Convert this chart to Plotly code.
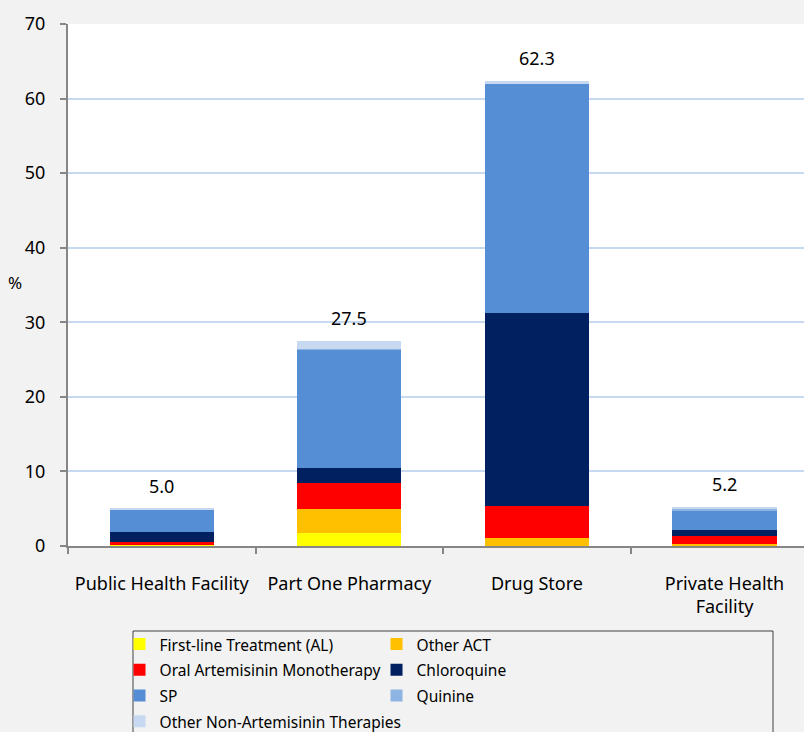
import plotly.graph_objects as go

categories = ["Public Health Facility", "Part One Pharmacy", "Drug Store", "Private Health<br>Facility"]
series_names = ["First-line Treatment (AL)", "Other ACT", "Oral Artemisinin Monotherapy",
                "Chloroquine", "SP", "Quinine", "Other Non-Artemisinin Therapies"]
first_line = [0.1, 1.8, 0.0, 0.1]
other_act = [0.0, 3.1, 1.1, 0.2]
oral_arte = [0.4, 3.5, 4.2, 1.1]
chloroquine = [1.4, 2.1, 26.0, 0.7]
sp = [3.0, 15.8, 30.7, 2.7]
quinine = [0.0, 0.1, 0.0, 0.1]
other_non_art = [0.1, 1.1, 0.3, 0.3]
totals = [5.0, 27.5, 62.3, 5.2]
y_ticks = [0, 10, 20, 30, 40, 50, 60, 70]

colors = ["#FFFF00", "#FFC000", "#FF0000", "#002060", "#558ED5", "#8EB4E3", "#C6D9F1"]
values = [first_line, other_act, oral_arte, chloroquine, sp, quinine, other_non_art]

FONT = "Noto Sans"
fig = go.Figure()
for name, vals, col in zip(series_names, values, colors):
    fig.add_trace(go.Bar(x=categories, y=vals,
                         name=f'<span style="font-size:15.5px">{name}</span>',
                         marker=dict(color=col, line=dict(width=0))))

for cat, tot in zip(categories, totals):
    fig.add_annotation(x=cat, y=tot, text=f"{tot:.1f}", showarrow=False,
                       yanchor="bottom", yshift=9,
                       font=dict(family=FONT, size=18, color="#000000"))

fig.add_annotation(xref="paper", yref="paper", x=(15 - 68) / 736, y=(546 - 282) / 522,
                   xanchor="center", yanchor="middle", text="%",
                   showarrow=False, font=dict(family=FONT, size=17, color="#000000"))

# legend box border (extends past bottom edge as in the reference)
fig.add_shape(type="rect", xref="paper", yref="paper",
              x0=(133 - 68) / 736, x1=(773 - 68) / 736,
              y0=(546 - 745) / 522, y1=(546 - 631) / 522,
              line=dict(color="#404040", width=1), fillcolor="rgba(0,0,0,0)", layer="below")

fig.update_layout(
    width=804, height=732,
    margin=dict(l=68, r=0, t=24, b=186, autoexpand=False),
    barmode="stack", bargap=0.444,
    paper_bgcolor="#F2F2F2", plot_bgcolor="#FFFFFF",
    font=dict(family=FONT, size=18, color="#000000"),
    showlegend=True,
    legend=dict(orientation="h", traceorder="normal", x=0.07, xanchor="left",
                y=(546 - 626) / 522, yanchor="top", entrywidth=212,
                bgcolor="rgba(0,0,0,0)", font=dict(family=FONT, size=17.5, color="#000000"),
                tracegroupgap=0),
    xaxis=dict(type="category", range=[-0.5, 3.424], showline=True, linecolor="#868686",
               linewidth=2, ticks="outside", tickson="boundaries", ticklen=6,
               tickcolor="#868686", tickwidth=2, showgrid=False, ticklabelstandoff=20,
               tickfont=dict(family=FONT, size=18)),
    yaxis=dict(range=[0, 70], tickvals=y_ticks, showline=True, linecolor="#868686", linewidth=2,
               ticks="outside", ticklen=6, tickcolor="#868686", tickwidth=2,
               showgrid=True, gridcolor="#C6D9F1", gridwidth=2, zeroline=False,
               ticklabelstandoff=11, tickfont=dict(family=FONT, size=18)),
)

fig.write_html("out.html", config={"displayModeBar": False},
               post_script="document.body.style.margin='0';document.body.style.overflow='hidden';")
